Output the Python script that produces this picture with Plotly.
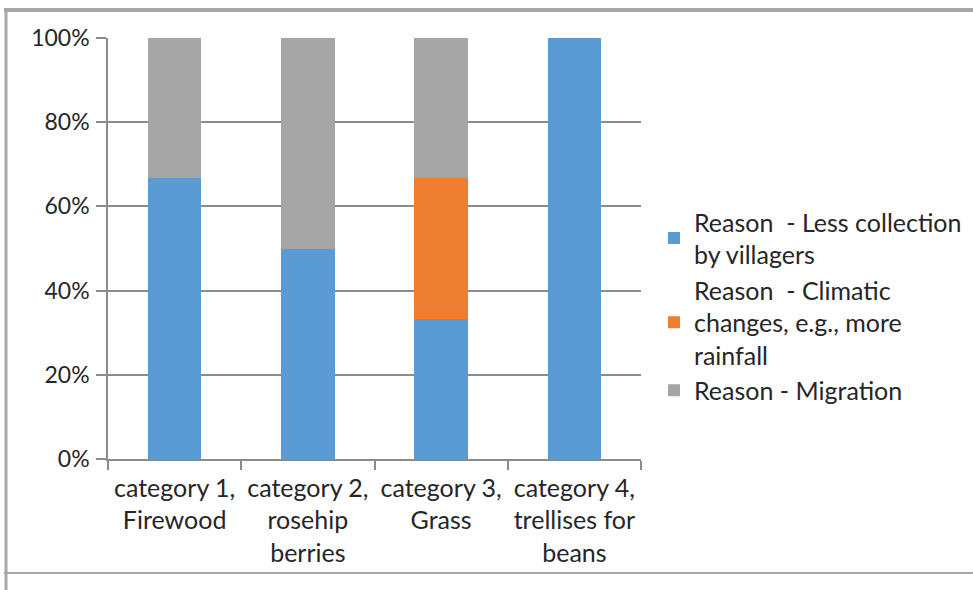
import plotly.graph_objects as go

# Share of each reason per collected resource (percent of respondents)
categories = [
    "category 1,<br>Firewood",
    "category 2,<br>rosehip<br>berries",
    "category 3,<br>Grass",
    "category 4,<br>trellises for<br>beans",
]
less_collection = [66.67, 50.0, 33.33, 100.0]
climatic_changes = [0.0, 0.0, 33.33, 0.0]
migration = [33.33, 50.0, 33.34, 0.0]

series_names = [
    "Reason  - Less collection<br>by villagers",
    "Reason  - Climatic<br>changes, e.g., more<br>rainfall",
    "Reason - Migration",
]
series_values = [less_collection, climatic_changes, migration]
series_colors = ["#5B9BD5", "#ED7D31", "#A5A5A5"]

FONT = "Lato, 'Open Sans', sans-serif"
TEXT = "#262626"
GRID = "#8c8c8c"
FRAME = "#a6a6a6"

fig = go.Figure()
for name, vals, col in zip(series_names, series_values, series_colors):
    fig.add_trace(go.Bar(x=categories, y=vals, name=name,
                         marker=dict(color=col, line=dict(width=0))))

# plot-area pixel geometry (used to place the outer frame lines)
W, H = 973, 590
L, R, T, B = 108, 641, 38, 459
pw, ph = R - L, B - T


def px(x):
    return (x - L) / pw


def py(y):
    return (B - y) / ph


frame = [
    # top border
    dict(x0=px(4), x1=px(973), y0=py(10), y1=py(10), w=4),
    # left border
    dict(x0=px(6), x1=px(6), y0=py(8), y1=py(590), w=3),
    # bottom border
    dict(x0=px(4), x1=px(973), y0=py(573), y1=py(573), w=2),
]
shapes = [dict(type="line", xref="paper", yref="paper", x0=f["x0"], x1=f["x1"],
               y0=f["y0"], y1=f["y1"], line=dict(color=FRAME, width=f["w"]),
               layer="above") for f in frame]

fig.update_layout(
    width=W, height=H,
    barmode="stack",
    bargap=0.6,
    paper_bgcolor="white",
    plot_bgcolor="white",
    margin=dict(l=L, r=W - R, t=T, b=H - B, pad=0, autoexpand=False),
    font=dict(family=FONT, size=25, color=TEXT),
    showlegend=True,
    legend=dict(
        xref="container", yref="container",
        x=654 / W, xanchor="left",
        y=1 - 306 / H, yanchor="middle",
        traceorder="normal",
        font=dict(family=FONT, size=25, color=TEXT),
        itemclick=False, itemdoubleclick=False,
        tracegroupgap=0,
        bgcolor="rgba(0,0,0,0)",
    ),
    xaxis=dict(
        type="category",
        showline=True, linecolor=GRID, linewidth=1.5,
        ticks="outside", tickson="boundaries", ticklen=9,
        tickcolor=GRID, tickwidth=1.5,
        showgrid=False,
        tickfont=dict(family=FONT, size=25, color=TEXT),
        ticklabelstandoff=6,
        fixedrange=True,
    ),
    yaxis=dict(
        range=[0, 100],
        tickvals=[0, 20, 40, 60, 80, 100],
        ticktext=["0%", "20%", "40%", "60%", "80%", "100%"],
        showline=True, linecolor=GRID, linewidth=1.5,
        ticks="outside", ticklen=10, tickcolor=GRID, tickwidth=1.5,
        showgrid=True, gridcolor=GRID, gridwidth=1.5,
        zeroline=False,
        tickfont=dict(family=FONT, size=23, color=TEXT),
        ticklabelstandoff=2,
        fixedrange=True,
    ),
    shapes=shapes,
)

fig.write_html("out.html", config={"displayModeBar": False})
